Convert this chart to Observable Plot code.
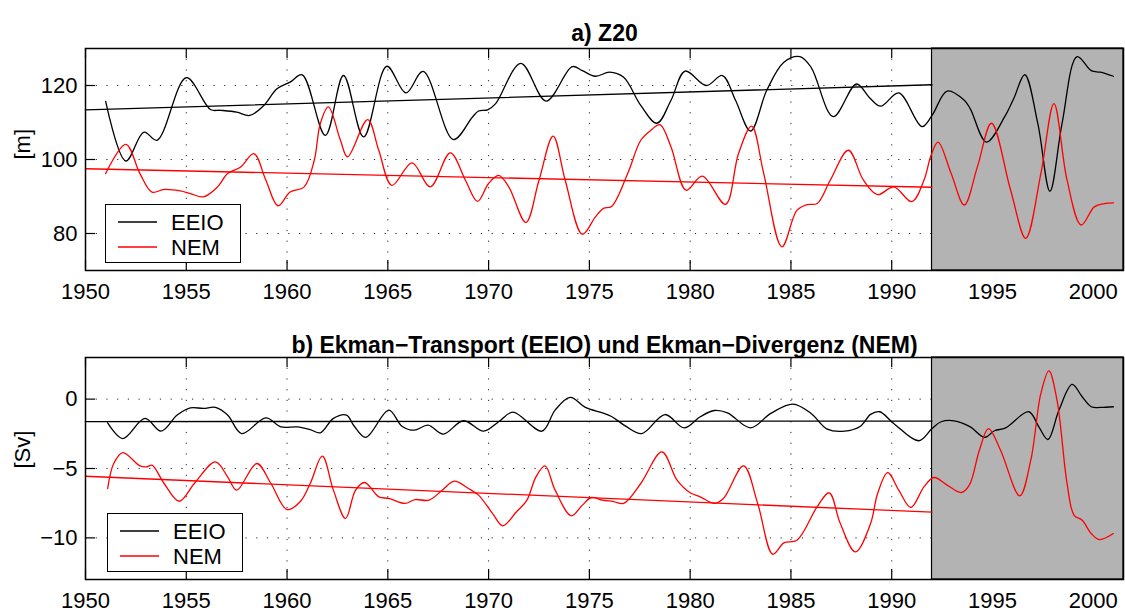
<!DOCTYPE html>
<html><head><meta charset="utf-8">
<script src="https://cdn.jsdelivr.net/npm/d3@7"></script>
<script src="https://cdn.jsdelivr.net/npm/@observablehq/plot@0.6"></script>
<style>
body{margin:0;background:#fff;font-family:"Liberation Sans",Arial,Helvetica,sans-serif}
#wrap{position:relative;width:1125px;height:612px;overflow:hidden}
#wrap svg{display:block}
.leg{position:absolute}
</style></head><body><div id="wrap"></div>
<script>
// ---- x ticks / shading ----
const xTickValues = [1950,1955,1960,1965,1970,1975,1980,1985,1990,1995,2000];
const shadeStart = 1992;
const shadeEnd = 2001.5;
const trendYears = [1950, 1992];

// ---- panel a) Z20 ----
const z20Ticks = [80, 100, 120];
const z20EeioYears = [1951.0,1952.0,1952.9,1953.55,1955.0,1956.2,1956.7,1957.5,1958.15,1958.85,1959.5,1960.15,1960.75,1961.9,1962.8,1963.8,1964.95,1965.9,1966.75,1968.25,1969.2,1969.5,1969.95,1970.35,1971.6,1972.85,1974.15,1974.65,1975.3,1976.0,1976.7,1977.55,1978.35,1979.05,1979.75,1980.8,1981.6,1982.25,1983.0,1983.8,1984.65,1985.45,1986.0,1987.1,1988.25,1988.9,1989.45,1990.35,1991.5,1992.0,1992.75,1993.6,1993.9,1994.7,1995.6,1996.05,1996.6,1997.25,1997.85,1998.45,1999.2,1999.9,2000.35,2001.0];
const z20EeioValues = [115.7,99.6,107.4,105.2,122.1,113.5,113.3,112.8,111.9,114.6,119.1,120.9,122.9,106.5,122.7,106.1,125.2,118.0,123.8,105.4,111.5,113.1,113.4,115.1,126.0,115.8,125.1,124.0,122.5,123.6,122.2,114.6,109.8,116.0,123.9,120.0,122.7,116.0,107.7,118.7,126.3,127.8,124.9,111.6,120.4,116.7,114.4,118.0,108.9,111.9,118.5,116.0,113.7,104.7,111.5,116.4,122.9,109.7,91.4,109.7,127.8,124.0,123.6,122.5];
const z20NemYears = [1951.0,1952.0,1952.7,1953.3,1953.9,1954.7,1955.2,1955.85,1956.55,1957.05,1957.7,1958.35,1958.95,1959.55,1960.15,1960.85,1961.35,1961.65,1962.05,1962.65,1963.0,1964.0,1964.55,1965.2,1966.2,1967.1,1968.1,1968.85,1969.45,1970.0,1970.5,1971.0,1971.85,1972.5,1973.2,1973.8,1974.65,1975.3,1975.7,1976.1,1976.9,1977.55,1978.05,1978.5,1979.05,1979.8,1980.6,1981.75,1982.4,1983.05,1983.65,1984.55,1985.3,1985.8,1986.3,1986.95,1987.85,1988.6,1989.3,1990.1,1991.0,1991.6,1991.95,1992.3,1992.95,1993.6,1994.25,1994.95,1995.9,1996.65,1997.4,1998.05,1998.7,1999.4,2000.05,2000.55,2001.0];
const z20NemValues = [96.2,104.1,96.2,91.2,91.9,91.5,90.8,89.9,92.6,96.2,98.0,101.6,94.4,87.5,91.2,92.6,99.8,109.7,114.2,105.2,100.7,110.8,102.5,93.0,99.1,92.6,101.8,94.4,88.7,93.5,95.7,92.6,83.0,94.4,106.3,94.4,79.8,84.5,86.8,87.3,96.2,105.2,107.9,109.4,103.4,91.7,95.5,87.9,101.6,109.0,96.2,76.4,86.3,87.8,88.1,94.4,102.5,94.4,90.5,92.6,88.6,94.4,101.1,104.7,96.2,87.7,98.0,109.8,91.7,78.7,96.2,115.1,94.4,82.3,87.2,88.1,88.3];
const z20EeioTrend = [113.4, 120.2];
const z20NemTrend = [97.5, 92.5];

// ---- panel b) Ekman ----
const ekTicks = [-10, -5, 0];
const ekEeioYears = [1951.1,1951.85,1952.95,1953.75,1954.55,1955.2,1955.85,1956.45,1957.05,1957.75,1958.95,1959.7,1960.5,1961.15,1961.65,1962.3,1962.95,1963.3,1963.9,1965.05,1965.7,1966.3,1967.0,1967.75,1968.75,1969.75,1970.5,1971.2,1972.65,1973.3,1974.05,1974.8,1975.65,1976.1,1976.8,1977.6,1978.75,1979.7,1980.5,1981.2,1981.85,1983.0,1984.0,1985.1,1986.0,1986.8,1987.65,1988.45,1988.95,1989.4,1990.1,1991.35,1992.0,1992.45,1993.1,1993.9,1994.6,1995.1,1995.65,1996.8,1997.3,1997.75,1998.3,1998.95,1999.45,1999.9,2000.35,2001.0];
const ekEeioValues = [-1.71,-2.84,-1.39,-2.31,-1.15,-0.63,-0.67,-0.6,-1.15,-2.48,-1.35,-2.0,-2.0,-2.19,-2.43,-1.39,-1.15,-1.88,-2.76,-0.79,-1.95,-2.24,-1.88,-2.52,-1.56,-2.31,-1.63,-0.94,-2.31,-0.79,0.12,-0.6,-0.99,-1.25,-1.95,-2.48,-1.11,-2.07,-1.27,-0.82,-0.99,-2.07,-1.03,-0.36,-1.03,-2.16,-2.31,-1.95,-1.1,-0.91,-1.75,-3.0,-2.12,-1.63,-1.56,-2.0,-2.76,-2.28,-2.07,-0.91,-2.0,-2.91,-0.79,1.06,0.17,-0.55,-0.6,-0.55];
const ekNemYears = [1951.1,1951.4,1951.85,1952.7,1953.05,1953.3,1953.9,1954.65,1955.4,1956.45,1957.05,1957.5,1958.5,1959.2,1960.0,1960.65,1961.15,1961.75,1962.3,1962.9,1963.4,1963.85,1964.55,1965.05,1965.85,1966.35,1967.05,1967.7,1968.3,1969.0,1969.5,1970.2,1970.7,1971.35,1971.9,1972.35,1972.8,1973.3,1974.1,1974.65,1975.1,1975.65,1976.2,1976.7,1977.55,1978.6,1979.35,1980.0,1980.5,1981.2,1981.65,1982.65,1983.35,1984.1,1984.65,1985.3,1986.3,1986.9,1987.45,1988.2,1988.95,1989.3,1989.8,1990.35,1990.95,1991.6,1992.1,1992.75,1993.45,1993.85,1994.35,1994.8,1995.4,1996.35,1996.9,1997.4,1997.8,1998.2,1998.7,1999.05,1999.45,1999.9,2000.3,2001.0];
const ekNemValues = [-6.44,-4.64,-3.85,-4.81,-4.88,-4.76,-6.08,-7.36,-6.08,-4.52,-5.6,-6.56,-4.64,-6.08,-7.96,-7.4,-6.08,-4.11,-6.56,-8.6,-6.56,-6.01,-7.04,-7.16,-7.52,-7.24,-7.28,-6.56,-5.91,-6.44,-6.92,-8.25,-9.13,-8.17,-7.28,-5.6,-4.81,-6.56,-8.41,-7.64,-7.09,-7.28,-7.38,-7.52,-6.08,-3.8,-5.84,-6.75,-7.04,-7.52,-7.16,-4.81,-7.52,-11.18,-10.36,-10.17,-7.76,-6.75,-8.97,-11.01,-8.97,-6.8,-5.29,-6.56,-7.81,-6.32,-5.65,-6.2,-6.73,-6.2,-3.68,-2.12,-3.68,-6.97,-4.4,0.41,2.04,-0.07,-6.08,-8.37,-8.73,-9.69,-10.12,-9.69];
const ekEeioTrend = [-1.62, -1.58];
const ekNemTrend = [-5.56, -8.15];

const seriesNames = ["EEIO", "NEM"];
const seriesColors = ["#000000", "#ff0000"];

const FONT = '"Liberation Sans", Arial, Helvetica, sans-serif';
const W = 1125, H = 306, ML = 85, MR = 2;

function zipXY(xs, ys){ return xs.map((x,i)=>({x, y: ys[i]})); }

function panel(o){
  const plotH = H - o.marginTop - o.marginBottom;
  const plotW = W - ML - MR;
  const dotted = {stroke:"#000", strokeOpacity:0.85, strokeWidth:1, strokeDasharray:"1.2,9.5"};
  const lines = [];
  o.series.forEach((s,i)=>{
    lines.push(Plot.line(zipXY(trendYears, s.trend), {x:"x", y:"y", stroke: seriesColors[i], strokeWidth:1.3}));
  });
  o.series.forEach((s,i)=>{
    lines.push(Plot.line(zipXY(s.years, s.values), {x:"x", y:"y", stroke: seriesColors[i], strokeWidth:1.3, curve:"catmull-rom"}));
  });
  return Plot.plot({
    width: W, height: H, marginLeft: ML, marginRight: MR,
    marginTop: o.marginTop, marginBottom: o.marginBottom,
    x: {domain: [1950, shadeEnd]},
    y: {domain: o.yDomain},
    style: {fontFamily: FONT, fontSize: "22px", color: "#000", background: "transparent", overflow: "visible"},
    marks: [
      Plot.gridX(xTickValues, dotted),
      Plot.gridY(o.yTicks, dotted),
      Plot.tickX(xTickValues, {x: d=>d, insetTop: plotH-10, stroke:"#000", strokeWidth:1.2}),
      Plot.tickX(xTickValues, {x: d=>d, insetBottom: plotH-10, stroke:"#000", strokeWidth:1.2}),
      Plot.tickY(o.yTicks, {y: d=>d, insetRight: plotW-10, stroke:"#000", strokeWidth:1.2}),
      Plot.tickY(o.yTicks, {y: d=>d, insetLeft: plotW-10, stroke:"#000", strokeWidth:1.2}),
      Plot.rect([{x1: shadeStart, x2: shadeEnd}], {x1:"x1", x2:"x2", fill:"#b3b3b3", stroke:"#000", strokeWidth:1.2}),
      ...lines,
      Plot.axisX(xTickValues, {tickSize:0, tickPadding:13, tickFormat: d=>String(d), fontSize:22, label:null}),
      Plot.axisY(o.yTicks, {tickSize:0, tickPadding:8, fontSize:22, label:null}),
      Plot.text([o.yLabel], {text: d=>d, frameAnchor:"left", dx:-63, rotate:-90, fontSize:22}),
      Plot.text([o.title], {text: d=>d, frameAnchor:"top", dy:o.titleDy, fontSize:23, fontWeight:"bold"}),
      Plot.frame({stroke:"#000", strokeWidth:1.5})
    ]
  });
}

function legend(left, top){
  const svg = d3.create("svg").attr("class","leg").attr("width",136).attr("height",59)
    .style("left", left+"px").style("top", top+"px").style("position","absolute");
  svg.append("rect").attr("x",0.5).attr("y",0.5).attr("width",135).attr("height",58)
    .attr("fill","#fff").attr("stroke","#000").attr("stroke-width",1);
  seriesNames.forEach((n,i)=>{
    const cy = 18 + i*25;
    svg.append("line").attr("x1",13).attr("x2",52).attr("y1",cy).attr("y2",cy)
      .attr("stroke",seriesColors[i]).attr("stroke-width",1.3);
    svg.append("text").attr("x",66).attr("y",cy).attr("dy","0.36em")
      .attr("font-family",FONT).attr("font-size",22).text(n);
  });
  return svg.node();
}

const wrap = document.getElementById("wrap");
wrap.appendChild(panel({
  title: "a) Z20", titleDy: -24, marginTop: 48, marginBottom: 36,
  yDomain: [70, 130], yTicks: z20Ticks, yLabel: "[m]",
  series: [
    {years: z20EeioYears, values: z20EeioValues, trend: z20EeioTrend},
    {years: z20NemYears, values: z20NemValues, trend: z20NemTrend}
  ]
}));
wrap.appendChild(panel({
  title: "b) Ekman\u2212Transport (EEIO) und Ekman\u2212Divergenz (NEM)", titleDy: -21, marginTop: 51, marginBottom: 33,
  yDomain: [-13, 3], yTicks: ekTicks, yLabel: "[Sv]",
  series: [
    {years: ekEeioYears, values: ekEeioValues, trend: ekEeioTrend},
    {years: ekNemYears, values: ekNemValues, trend: ekNemTrend}
  ]
}));
wrap.appendChild(legend(105, 204));
wrap.appendChild(legend(107, 513));
</script>
</body></html>
